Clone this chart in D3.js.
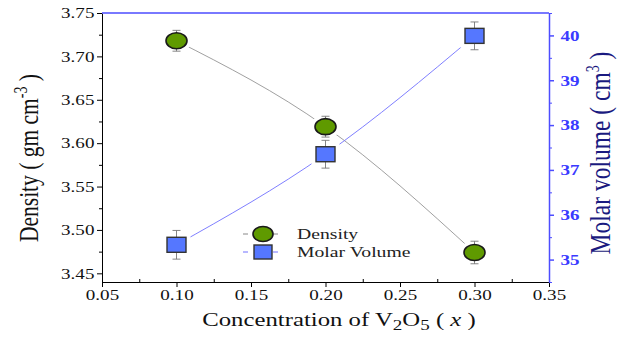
<!DOCTYPE html>
<html>
<head>
<meta charset="utf-8">
<script src="https://cdn.jsdelivr.net/npm/d3@7"></script>
<style>
  body { margin: 0; background: #fff; }
  svg text { font-family: "Liberation Serif", "DejaVu Serif", serif; }
</style>
</head>
<body>
<svg width="617" height="338"></svg>
<script>
// data
let conc = [0.10, 0.20, 0.30];
let density = [3.718, 3.619, 3.474];
let densityErr = [0.012, 0.012, 0.013];
let molarVol = [35.33, 37.35, 39.99];
let molarErr = [0.32, 0.31, 0.31];
let xTicks = [0.05, 0.10, 0.15, 0.20, 0.25, 0.30, 0.35];
let yTicks = [3.45, 3.50, 3.55, 3.60, 3.65, 3.70, 3.75];
let y2Ticks = [35, 36, 37, 38, 39, 40];

let svg = d3.select("svg");
let pLeft = 102, pRight = 549, pTop = 13, pBottom = 282;
let blue = "#4d4dff";
let stretch = 1.27; // the original picture is drawn wider than tall

let x = d3.scaleLinear().domain([0.05, 0.35]).range([pLeft, pRight]);
let y = d3.scaleLinear().domain([3.44, 3.75]).range([pBottom, pTop]);
let y2 = d3.scaleLinear().domain([34.5, 40.5]).range([pBottom, pTop]);

// mask so lines stop short of the markers
let mask = svg.append("defs").append("mask").attr("id", "gap");
mask.append("rect").attr("width", 617).attr("height", 338).attr("fill", "white");
conc.forEach(function(c, i) {
    mask.append("ellipse").attr("cx", x(c)).attr("cy", y(density[i])).attr("rx", 15).attr("ry", 12).attr("fill", "black");
    mask.append("rect").attr("x", x(c) - 14).attr("y", y2(molarVol[i]) - 12).attr("width", 28).attr("height", 24).attr("fill", "black");
});

// axes
let gx = svg.append("g").attr("transform", "translate(0," + pBottom + ")")
    .call(d3.axisBottom(x).tickValues(xTicks).tickFormat(d3.format(".2f")).tickSize(5).tickSizeOuter(0));
gx.selectAll("text").attr("y", 18).attr("dy", 0)
    .attr("transform", "scale(" + stretch + ",1)")
    .style("font-size", "15px").attr("fill", "#111");
svg.append("g").attr("transform", "translate(0," + pBottom + ")")
    .call(d3.axisTop(x).tickValues(d3.range(0.075, 0.35, 0.05)).tickFormat("").tickSize(3).tickSizeOuter(0))
    .select(".domain").remove();

let gy = svg.append("g").attr("transform", "translate(" + pLeft + ",0)")
    .call(d3.axisLeft(y).tickValues(yTicks).tickFormat(d3.format(".2f")).tickSize(5).tickSizeOuter(0));
gy.selectAll("text").attr("x", -6).attr("transform", "scale(" + stretch + ",1)")
    .style("font-size", "15px").attr("fill", "#111");
svg.append("g").attr("transform", "translate(" + pLeft + ",0)")
    .call(d3.axisLeft(y).tickValues(d3.range(3.475, 3.75, 0.05)).tickFormat("").tickSize(3).tickSizeOuter(0))
    .select(".domain").remove();

let gy2 = svg.append("g").attr("transform", "translate(" + pRight + ",0)")
    .call(d3.axisRight(y2).tickValues(y2Ticks).tickFormat(d3.format("d")).tickSize(5).tickSizeOuter(0));
gy2.selectAll("line, path").attr("stroke", blue).attr("stroke-width", 1.5);
gy2.selectAll("text").attr("x", 9).attr("transform", "scale(" + stretch + ",1)")
    .style("font-size", "15px").attr("fill", "#3a3aff").attr("font-weight", "bold");
svg.append("g").attr("transform", "translate(" + pRight + ",0)")
    .call(d3.axisRight(y2).tickValues(d3.range(34.5, 40.6, 1)).tickFormat("").tickSize(3).tickSizeOuter(0))
    .call(function(g) { g.select(".domain").remove(); g.selectAll("line").attr("stroke", blue); });

svg.append("line").attr("x1", pLeft).attr("x2", pRight).attr("y1", pTop).attr("y2", pTop)
    .attr("stroke", blue).attr("stroke-width", 1.5);

// lines
let lineD = d3.line().x(function(d, i) { return x(conc[i]); }).y(function(d) { return y(d); }).curve(d3.curveMonotoneX);
let lineM = d3.line().x(function(d, i) { return x(conc[i]); }).y(function(d) { return y2(d); }).curve(d3.curveMonotoneX);
svg.append("path").attr("d", lineD(density)).attr("fill", "none").attr("stroke", "#888").attr("stroke-width", 0.8).attr("mask", "url(#gap)");
svg.append("path").attr("d", lineM(molarVol)).attr("fill", "none").attr("stroke", "#7070ff").attr("stroke-width", 0.9).attr("mask", "url(#gap)");

// error bars
function errBar(cx, y0, y1) {
    let g = svg.append("g").attr("stroke", "#777").attr("stroke-width", 0.9);
    g.append("line").attr("x1", cx).attr("x2", cx).attr("y1", y0).attr("y2", y1);
    g.append("line").attr("x1", cx - 4).attr("x2", cx + 4).attr("y1", y0).attr("y2", y0);
    g.append("line").attr("x1", cx - 4).attr("x2", cx + 4).attr("y1", y1).attr("y2", y1);
}
conc.forEach(function(c, i) {
    errBar(x(c), y(density[i] + densityErr[i]), y(density[i] - densityErr[i]));
    errBar(x(c), y2(molarVol[i] + molarErr[i]), y2(molarVol[i] - molarErr[i]));
});

// markers
svg.selectAll(".dens").data(density).enter().append("ellipse")
    .attr("cx", function(d, i) { return x(conc[i]); })
    .attr("cy", function(d) { return y(d); })
    .attr("rx", 10.5).attr("ry", 8)
    .attr("fill", "#5f9a00").attr("stroke", "#1a1a1a").attr("stroke-width", 1.6);
svg.selectAll(".mol").data(molarVol).enter().append("rect")
    .attr("x", function(d, i) { return x(conc[i]) - 9.5; })
    .attr("y", function(d) { return y2(d) - 7.5; })
    .attr("width", 19).attr("height", 15)
    .attr("fill", "#5577ff").attr("stroke", "#333").attr("stroke-width", 1.4);

// legend
let lg = svg.append("g");
lg.append("line").attr("x1", 243).attr("x2", 248).attr("y1", 234).attr("y2", 234).attr("stroke", "#888");
lg.append("line").attr("x1", 273).attr("x2", 278).attr("y1", 234).attr("y2", 234).attr("stroke", "#888");
lg.append("ellipse").attr("cx", 263).attr("cy", 234).attr("rx", 10).attr("ry", 7.5)
    .attr("fill", "#5f9a00").attr("stroke", "#1a1a1a").attr("stroke-width", 1.6);
lg.append("text").attr("transform", "translate(297,239) scale(" + stretch + ",1)")
    .style("font-size", "15.5px").attr("fill", "#222").text("Density");
lg.append("line").attr("x1", 243).attr("x2", 248).attr("y1", 252).attr("y2", 252).attr("stroke", "#7070ff");
lg.append("line").attr("x1", 273).attr("x2", 278).attr("y1", 252).attr("y2", 252).attr("stroke", "#7070ff");
lg.append("rect").attr("x", 254).attr("y", 245).attr("width", 18).attr("height", 14)
    .attr("fill", "#5577ff").attr("stroke", "#333").attr("stroke-width", 1.4);
lg.append("text").attr("transform", "translate(297,257) scale(" + stretch + ",1)")
    .style("font-size", "15.5px").attr("fill", "#222").text("Molar Volume");

// axis titles
let xt = svg.append("text").attr("transform", "translate(339,326) scale(" + stretch + ",1)")
    .attr("text-anchor", "middle").style("font-size", "19.5px").attr("fill", "#111");
xt.append("tspan").text("Concentration of V");
xt.append("tspan").attr("dy", 4).style("font-size", "15px").text("2");
xt.append("tspan").attr("dy", -4).text("O");
xt.append("tspan").attr("dy", 4).style("font-size", "15px").text("5");
xt.append("tspan").attr("dy", -4).text(" ( ");
xt.append("tspan").style("font-style", "italic").text("x");
xt.append("tspan").text(" )");

let yt = svg.append("text").attr("transform", "translate(38,158) scale(" + stretch + ",1) rotate(-90)")
    .attr("text-anchor", "middle").style("font-size", "21.5px").attr("fill", "#111");
yt.append("tspan").text("Density ( gm cm");
yt.append("tspan").attr("dy", -9).style("font-size", "14px").text("-3");
yt.append("tspan").attr("dy", 9).text(" )");

let y2t = svg.append("text").attr("transform", "translate(610,153) scale(" + stretch + ",1) rotate(-90)")
    .attr("text-anchor", "middle").style("font-size", "23.5px").attr("fill", "#1a1a80");
y2t.append("tspan").text("Molar volume ( cm");
y2t.append("tspan").attr("dy", -9).style("font-size", "14px").text("3");
y2t.append("tspan").attr("dy", 9).text(" )");
</script>
</body>
</html>
